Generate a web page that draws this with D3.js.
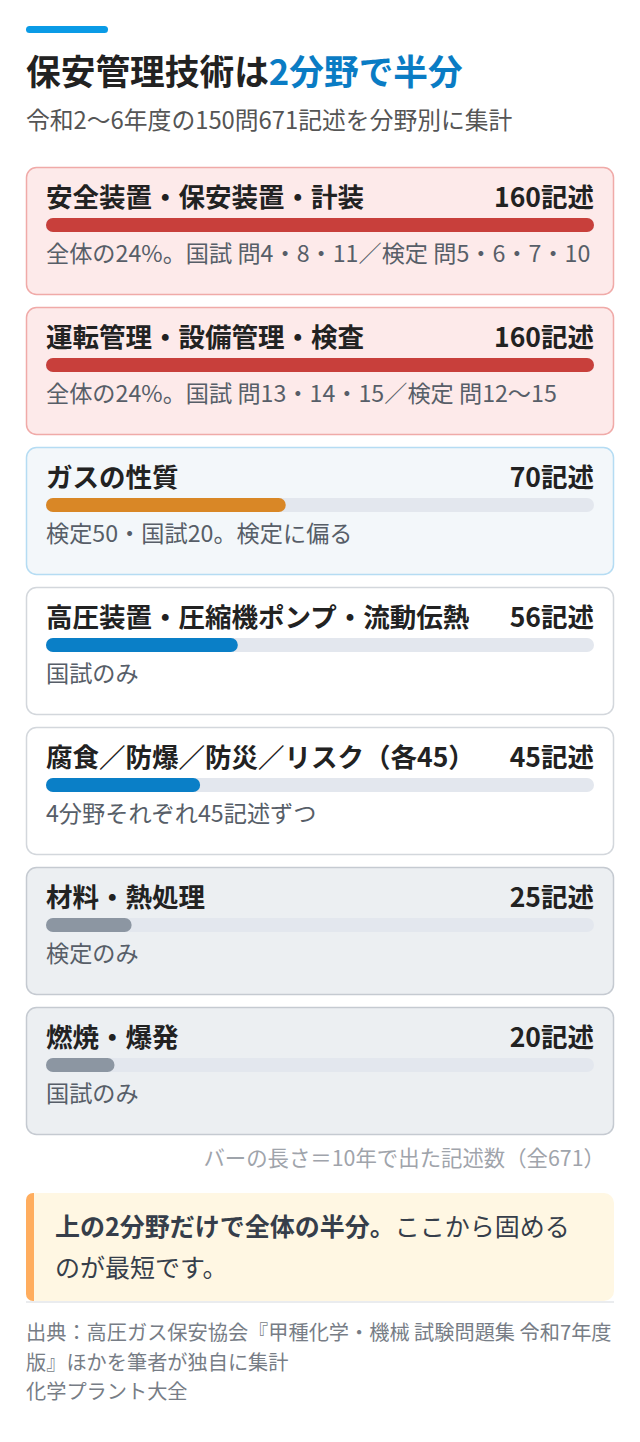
<!DOCTYPE html>
<html><head><meta charset="utf-8">
<script src="https://cdn.jsdelivr.net/npm/d3@7/dist/d3.min.js"></script>
<style>
html,body{margin:0;padding:0;background:#fff;}
svg{display:block;font-family:"Noto Sans CJK JP","Noto Sans",sans-serif;}
</style></head><body>
<svg id="c" width="640" height="1442"></svg>
<script>
const categories = ["安全装置・保安装置・計装","運転管理・設備管理・検査","ガスの性質","高圧装置・圧縮機ポンプ・流動伝熱","腐食／防爆／防災／リスク（各45）","材料・熱処理","燃焼・爆発"];
const values = [160,160,70,56,45,25,20];
const notes = ["全体の24%。国試 問4・8・11／検定 問5・6・7・10","全体の24%。国試 問13・14・15／検定 問12〜15","検定50・国試20。検定に偏る","国試のみ","4分野それぞれ45記述ずつ","検定のみ","国試のみ"];
const groups = ["top","top","mid","main","main","low","low"];
const unit = "記述";

const styles = {
  top:{fill:"#fdeaea",stroke:"#f0aaa8",bar:"#c83f3b"},
  mid:{fill:"#f3f7fa",stroke:"#b5dcf3",bar:"#d98726"},
  main:{fill:"#ffffff",stroke:"#d3d7dc",bar:"#0a7fc7"},
  low:{fill:"#eceff2",stroke:"#c5cad1",bar:"#8c96a2"}
};

const svg = d3.select("#c");
svg.append("rect").attr("x",26).attr("y",26).attr("width",82).attr("height",7).attr("rx",3.5).attr("fill","#0a9be6");

const t = svg.append("text").attr("x",26).attr("y",85).attr("font-size",34.7).attr("font-weight",700).attr("fill","#222");
t.append("tspan").text("保安管理技術は");
t.append("tspan").attr("fill","#0a7cc4").text("2分野で半分");

svg.append("text").attr("x",26).attr("y",129).attr("font-size",23.8).attr("fill","#555").text("令和2〜6年度の150問671記述を分野別に集計");

const x = d3.scaleLinear().domain([0,160]).range([0,548]);

const card = svg.selectAll("g.card").data(categories).join("g").attr("class","card")
  .attr("transform",(d,i)=>`translate(26,${167+i*140})`);
card.append("rect").attr("x",0.5).attr("y",0.5).attr("width",587).attr("height",127).attr("rx",10)
  .attr("fill",(d,i)=>styles[groups[i]].fill).attr("stroke",(d,i)=>styles[groups[i]].stroke).attr("stroke-width",1.5);
card.append("text").attr("x",20).attr("y",40).attr("font-size",26.5).attr("font-weight",700).attr("fill","#222").text(d=>d);
card.append("text").attr("x",568).attr("y",40).attr("text-anchor","end").attr("font-size",26.5).attr("font-weight",700).attr("fill","#222").text((d,i)=>values[i]+unit);
card.append("rect").attr("x",20).attr("y",51).attr("width",548).attr("height",14).attr("rx",7).attr("fill","#e3e7ee");
card.append("rect").attr("x",20).attr("y",51).attr("width",(d,i)=>x(values[i])).attr("height",14).attr("rx",7).attr("fill",(d,i)=>styles[groups[i]].bar);
card.append("text").attr("x",20).attr("y",95).attr("font-size",23.2).attr("fill","#575e68").text((d,i)=>notes[i]);

svg.append("text").attr("x",605).attr("y",1166).attr("text-anchor","end").attr("font-size",21.4).attr("fill","#9fa4ab").text("バーの長さ＝10年で出た記述数（全671）");

// callout
svg.append("path").attr("d","M36,1193 H604 a10,10 0 0 1 10,10 V1291 a10,10 0 0 1 -10,10 H36 a10,10 0 0 1 -10,-10 V1203 a10,10 0 0 1 10,-10 Z").attr("fill","#fff7e3");
svg.append("path").attr("d","M33,1193 H34 V1301 H33 a7,7 0 0 1 -7,-7 V1200 a7,7 0 0 1 7,-7 Z").attr("fill","#ffad5e");
const c1 = svg.append("text").attr("x",55).attr("y",1236).attr("font-size",25).attr("fill","#363e4a");
c1.append("tspan").attr("font-weight",700).text("上の2分野だけで全体の半分。");
c1.append("tspan").text("ここから固める");
svg.append("text").attr("x",55).attr("y",1277).attr("font-size",25).attr("fill","#363e4a").text("のが最短です。");
svg.append("line").attr("x1",26).attr("x2",614).attr("y1",1302).attr("y2",1302).attr("stroke","#d5d9de").attr("stroke-width",1);

const src = ["出典：高圧ガス保安協会『甲種化学・機械 試験問題集 令和7年度","版』ほかを筆者が独自に集計","化学プラント大全"];
svg.selectAll("text.src").data(src).join("text").attr("class","src").attr("x",26).attr("y",(d,i)=>1340+i*29.5).attr("font-size",20.2).attr("fill","#777d86").text(d=>d);
</script></body></html>
